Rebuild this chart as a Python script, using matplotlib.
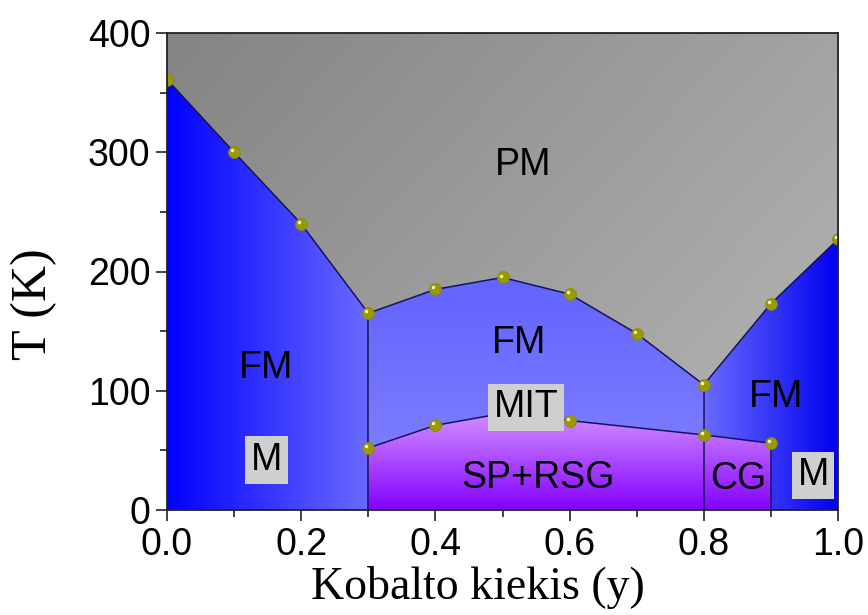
import numpy as np
import matplotlib
matplotlib.use("Agg")
import matplotlib.pyplot as plt
from matplotlib.colors import LinearSegmentedColormap
from matplotlib.patches import Polygon
from matplotlib.transforms import offset_copy

# Cobalt content (y) and transition temperatures (K)
cobalt = [0.0, 0.1, 0.2, 0.3, 0.4, 0.5, 0.6, 0.7, 0.8, 0.9, 1.0]
t_curie = [361, 300, 240, 165, 185, 195, 181, 148, 105, 173, 227]

cobalt_mit = [0.3, 0.4, 0.5, 0.6, 0.8, 0.9]
t_mit = [52, 71, 81, 75, 63, 56]

# Region labels: (text, y, T, boxed)
region_labels = [
    ("PM", 0.53, 289, False),
    ("FM", 0.148, 119, False),
    ("FM", 0.525, 140, False),
    ("FM", 0.908, 95, False),
    ("SP+RSG", 0.553, 27, False),
    ("CG", 0.851, 26, False),
    ("MIT", 0.535, 86, True),
    ("M", 0.148, 42, True),
    ("M", 0.963, 29, True),
]

XMIN, XMAX, TMIN, TMAX = 0.0, 1.0, 0.0, 400.0

fig = plt.figure(figsize=(8.68, 6.15), dpi=100)
ax = fig.add_axes([167 / 868, 1 - 510 / 615, (838 - 167) / 868, (510 - 33) / 615])
ax.set_xlim(XMIN, XMAX)
ax.set_ylim(TMIN, TMAX)


def gradient_fill(ax, verts, c0, c1, mode, extent, zorder=1):
    """Fill a polygon with a linear colour gradient."""
    cmap = LinearSegmentedColormap.from_list("g", [c0, c1])
    n = 256
    if mode == "h":
        arr = np.tile(np.linspace(0, 1, n), (2, 1))
    elif mode == "v":  # c0 at bottom, c1 at top
        arr = np.tile(np.linspace(0, 1, n)[:, None], (1, 2))
    else:  # diagonal: c0 top-left, c1 bottom-right
        xx, yy = np.meshgrid(np.linspace(0, 1, n), np.linspace(0, 1, n))
        arr = 0.6 * xx + 0.4 * (1 - yy)
        arr = (arr - arr.min()) / (arr.max() - arr.min())
    im = ax.imshow(arr, cmap=cmap, extent=extent, origin="lower",
                   aspect="auto", interpolation="bilinear", zorder=zorder)
    patch = Polygon(verts, closed=True, transform=ax.transData,
                    facecolor="none", edgecolor="none")
    ax.add_patch(patch)
    im.set_clip_path(patch)
    return im


c = dict(zip(cobalt, t_curie))
m = dict(zip(cobalt_mit, t_mit))

# Paramagnetic background
pm_poly = [(XMIN, TMIN), (XMAX, TMIN), (XMAX, TMAX), (XMIN, TMAX)]
gradient_fill(ax, pm_poly, "#848484", "#b8b8b8", "d", [XMIN, XMAX, TMIN, TMAX], zorder=0)

# Left ferromagnetic region
left = [(0.0, 0.0), (0.3, 0.0)] + [(x, c[x]) for x in cobalt if x <= 0.3][::-1]
gradient_fill(ax, left, "#0000ff", "#6a6aff", "h", [0.0, 0.3, TMIN, TMAX])

# Middle ferromagnetic region
upper_mid = [(x, c[x]) for x in cobalt if 0.3 <= x <= 0.8]
lower_mid = [(x, m[x]) for x in cobalt_mit if 0.3 <= x <= 0.8][::-1]
gradient_fill(ax, upper_mid + lower_mid, "#7c7cff", "#6262ff", "v", [0.3, 0.8, 50, 200])

# Spin glass region
sg = [(0.3, 0.0), (0.8, 0.0)] + lower_mid
gradient_fill(ax, sg, "#8400ff", "#d496ff", "v", [0.3, 0.8, 0, 85])

# Cluster glass region
cg = [(0.8, 0.0), (0.9, 0.0), (0.9, m[0.9]), (0.8, m[0.8])]
gradient_fill(ax, cg, "#8400ff", "#d496ff", "v", [0.8, 0.9, 0, 85])

# Right ferromagnetic region
right = [(x, c[x]) for x in cobalt if x >= 0.8] + [(1.0, 0.0), (0.9, 0.0), (0.9, m[0.9]), (0.8, m[0.8])]
gradient_fill(ax, right, "#6a6aff", "#0000f0", "h", [0.8, 1.0, TMIN, TMAX])

# Phase boundaries
line_kw = dict(color="#14145a", lw=1.1, zorder=3)
ax.plot(cobalt, t_curie, **line_kw)
ax.plot(cobalt_mit, t_mit, **line_kw)
for x in (0.3, 0.8):
    ax.plot([x, x], [0, c[x]], **line_kw)
ax.plot([0.9, 0.9], [0, m[0.9]], **line_kw)

# Data points: olive spheres with a small highlight
pt_kw = dict(ls="none", marker="o", ms=8.5, mfc="#9a9a00", mec="#8a8a00", mew=0.6, zorder=4)
hl_kw = dict(ls="none", marker="o", ms=2.5, mfc="#f4f4c8", mec="none", zorder=5,
             transform=offset_copy(ax.transData, fig=fig, x=-1.4, y=1.4, units="points"))
for xs, ts in ((cobalt, t_curie), (cobalt_mit, t_mit)):
    ax.plot(xs, ts, **pt_kw)
    ax.plot(xs, ts, **hl_kw)

# Labels
for text, x, t, boxed in region_labels:
    kw = dict(ha="center", va="center", fontsize=27, family="Liberation Sans",
              color="black", zorder=6)
    if boxed:
        kw["bbox"] = dict(boxstyle="square,pad=0.15", fc="#cfcfcf", ec="none")
    ax.text(x, t, text, **kw)

# Axes styling
ax.set_xticks(np.arange(0, 1.01, 0.2))
ax.set_xticks(np.arange(0.1, 1.0, 0.2), minor=True)
ax.set_yticks(np.arange(0, 401, 100))
ax.set_yticks(np.arange(50, 400, 100), minor=True)
ax.set_xticklabels([f"{v:.1f}" for v in np.arange(0, 1.01, 0.2)])
ax.tick_params(which="both", direction="out", width=1.2, colors="#222222",
               top=False, right=False, labelsize=27, pad=4)
ax.tick_params(which="major", length=8)
ax.tick_params(which="minor", length=5)
for lab in ax.get_xticklabels() + ax.get_yticklabels():
    lab.set_family("Liberation Sans")
    lab.set_color("black")
for s in ax.spines.values():
    s.set_linewidth(1.3)
    s.set_color("#222222")
    s.set_zorder(7)

ax.set_xlabel("Kobalto kiekis (y)", family="Liberation Serif", fontsize=33)
ax.xaxis.label.set_va("baseline")
ax.xaxis.set_label_coords(0.463, -0.187)
ax.set_ylabel("T (K)", family="Liberation Serif", fontsize=36)
ax.yaxis.label.set_va("center")
ax.yaxis.set_label_coords(-0.199, 0.432)

fig.savefig("out.png", dpi=100)
